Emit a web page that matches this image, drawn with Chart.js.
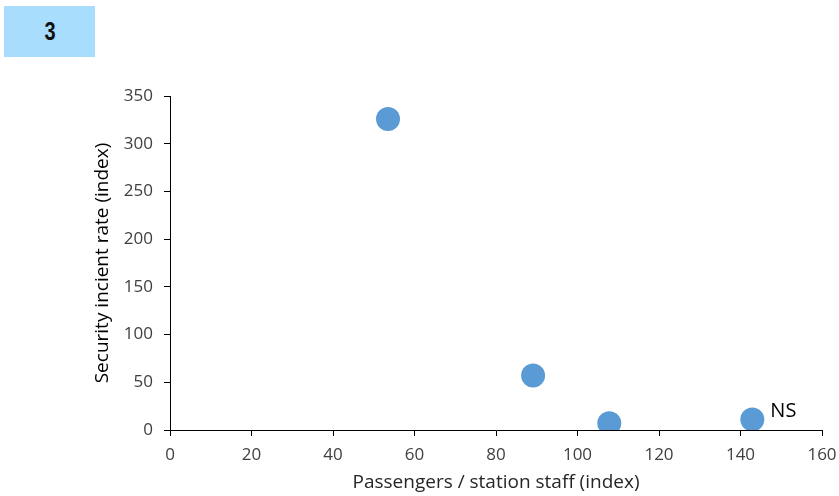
<!DOCTYPE html>
<html>
<head>
<meta charset="utf-8">
<script src="https://cdn.jsdelivr.net/npm/chart.js@4.4.1/dist/chart.umd.min.js"></script>
<style>
  html, body { margin: 0; padding: 0; background: #ffffff; }
  #wrap { position: relative; width: 839px; height: 496px; }
  #badge { position: absolute; left: 4px; top: 6px; width: 91px; height: 51px; background: #A9DDFD;
           font-family: "Liberation Sans Narrow", "Liberation Sans", Arial, sans-serif; font-weight: bold;
           font-size: 25px; color: #111; display: flex; align-items: center; justify-content: center; }
</style>
</head>
<body>
<div id="wrap">
  <canvas id="c" width="839" height="496"></canvas>
  <div id="badge"><span style="display:inline-block;transform:scaleX(0.8)">3</span></div>
</div>
<script>
// Data
const passengersPerStaff = [53.5, 89.1, 107.8, 142.9];
const securityIncidentRate = [326, 57, 7, 11];
const pointLabels = ["", "", "", "NS"];
const xTicks = [0, 20, 40, 60, 80, 100, 120, 140, 160];
const yTicks = [0, 50, 100, 150, 200, 250, 300, 350];
const xTitle = "Passengers / station staff (index)";
const yTitle = "Security incient rate (index)";

const FONT = "'Open Sans', 'Noto Sans', sans-serif";

const points = passengersPerStaff.map((x, i) => ({ x: x, y: securityIncidentRate[i] }));

const labelPlugin = {
  id: 'pointLabels',
  afterDatasetsDraw(chart) {
    const ctx = chart.ctx;
    const meta = chart.getDatasetMeta(0);
    ctx.save();
    ctx.font = "20px " + FONT;
    ctx.fillStyle = "#000000";
    ctx.textAlign = "left";
    ctx.textBaseline = "middle";
    meta.data.forEach((el, i) => {
      if (pointLabels[i]) ctx.fillText(pointLabels[i], el.x + 18, el.y - 8);
    });
    ctx.restore();
  }
};

new Chart(document.getElementById('c'), {
  type: 'scatter',
  data: {
    datasets: [{
      data: points,
      backgroundColor: '#5B9BD5',
      borderColor: '#5B9BD5',
      pointRadius: 12,
      pointHoverRadius: 12,
      borderWidth: 0
    }]
  },
  options: {
    responsive: false,
    animation: false,
    events: [],
    layout: { padding: { left: 89, top: 96, right: 17, bottom: 0 } },
    plugins: { legend: { display: false }, tooltip: { enabled: false } },
    scales: {
      x: {
        type: 'linear',
        min: 0, max: 160,
        afterBuildTicks: (s) => { s.ticks = xTicks.map(v => ({ value: v })); },
        afterFit: (s) => { s.height = 66; s.paddingLeft = 0; s.paddingRight = 0; },
        grid: { display: true, drawOnChartArea: false, drawTicks: true, tickLength: 6, color: '#000000', lineWidth: 1 },
        border: { display: true, color: '#000000', width: 1 },
        ticks: { color: '#404040', font: { family: FONT, size: 17 }, padding: 9, maxRotation: 0 },
        title: { display: true, text: xTitle, color: '#262626', font: { family: FONT, size: 19 }, padding: { top: 0, bottom: 2 } }
      },
      y: {
        type: 'linear',
        min: 0, max: 350,
        afterBuildTicks: (s) => { s.ticks = yTicks.map(v => ({ value: v })); },
        afterFit: (s) => { s.width = 81; s.paddingTop = 0; s.paddingBottom = 0; },
        grid: { display: true, drawOnChartArea: false, drawTicks: true, tickLength: 6, color: '#000000', lineWidth: 1 },
        border: { display: true, color: '#000000', width: 1 },
        ticks: { color: '#404040', font: { family: FONT, size: 17 }, padding: 11 },
        title: { display: true, text: yTitle, color: '#000000', font: { family: FONT, size: 19 }, padding: { top: 2, bottom: 0 } }
      }
    }
  },
  plugins: [labelPlugin]
});
</script>
</body>
</html>
